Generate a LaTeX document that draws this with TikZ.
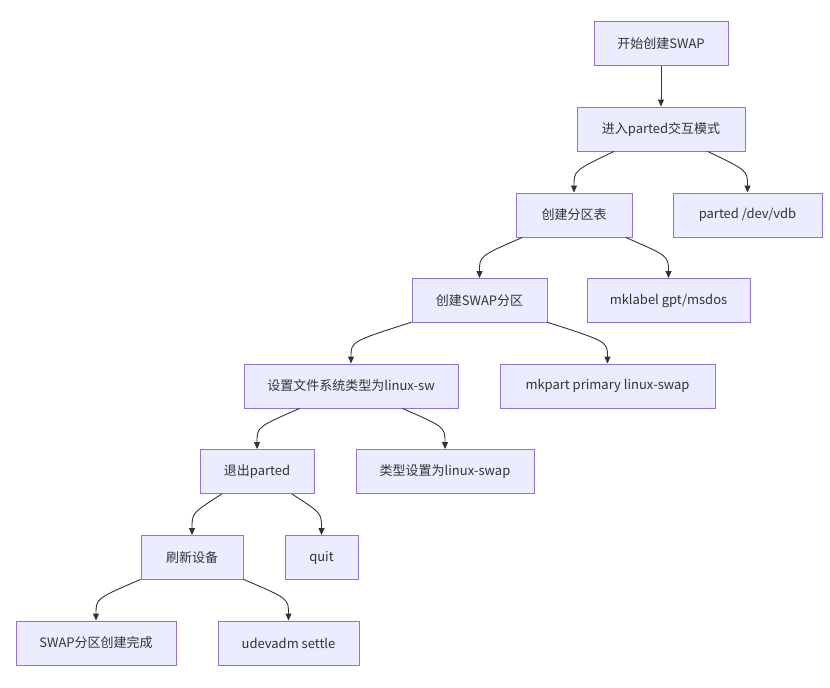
\documentclass[tikz,border=0pt]{standalone}
\usepackage{fontspec}
\setmainfont{Noto Sans CJK SC}
\usetikzlibrary{arrows.meta,calc}
\definecolor{nodefill}{HTML}{ECECFF}
\definecolor{nodeline}{HTML}{9370DB}
\definecolor{edgegray}{HTML}{333333}

\begin{document}
\begin{tikzpicture}[
  x=1pt, y=-1pt,
  box/.style={draw=nodeline, fill=nodefill, line width=0.9pt, minimum height=44pt, inner sep=0pt, align=center, text=edgegray, font=\fontsize{13}{15}\selectfont},
  arr/.style={-{Triangle[length=7pt, width=6pt]}, draw=edgegray, line width=0.9pt},
]
  \useasboundingbox (0,0) rectangle (830,688);

  % Steps
  \node[box, minimum width=134pt] (start) at (661,43.5) {开始创建SWAP};
  \node[box, minimum width=168pt] (enter) at (661,129) {进入parted交互模式};
  \node[box, minimum width=116pt] (table) at (574,215) {创建分区表};
  \node[box, minimum width=135pt] (swappart) at (479.5,300.5) {创建SWAP分区};
  \node[box, minimum width=214pt] (settype) at (351,386) {设置文件系统类型为linux-sw};
  \node[box, minimum width=114pt] (quitparted) at (257,471.5) {退出parted};
  \node[box, minimum width=102pt] (refresh) at (192,557.5) {刷新设备};
  \node[box, minimum width=160pt] (done) at (96,643) {SWAP分区创建完成};

  % Commands
  \node[box, minimum width=149pt] (vdb) at (747.5,215) {parted /dev/vdb};
  \node[box, minimum width=163pt] (mklabel) at (668.5,300.5) {mklabel gpt/msdos};
  \node[box, minimum width=215pt] (mkpart) at (607.5,386) {mkpart primary linux-swap};
  \node[box, minimum width=178pt] (typeset) at (445,471.5) {类型设置为linux-swap};
  \node[box, minimum width=73pt] (quit) at (321.5,557.5) {quit};
  \node[box, minimum width=141pt] (settle) at (288.5,643) {udevadm settle};

  % Edges
  \draw[arr] (start) -- (enter);
  \foreach \a/\b in {enter/table, enter/vdb, table/swappart, table/mklabel,
                     swappart/settype, swappart/mkpart, settype/quitparted, settype/typeset,
                     quitparted/refresh, quitparted/quit, refresh/done, refresh/settle}
    \draw[arr] (\a) .. controls ($(\b.north)+(0,-22)$) .. (\b.north);
\end{tikzpicture}
\end{document}
